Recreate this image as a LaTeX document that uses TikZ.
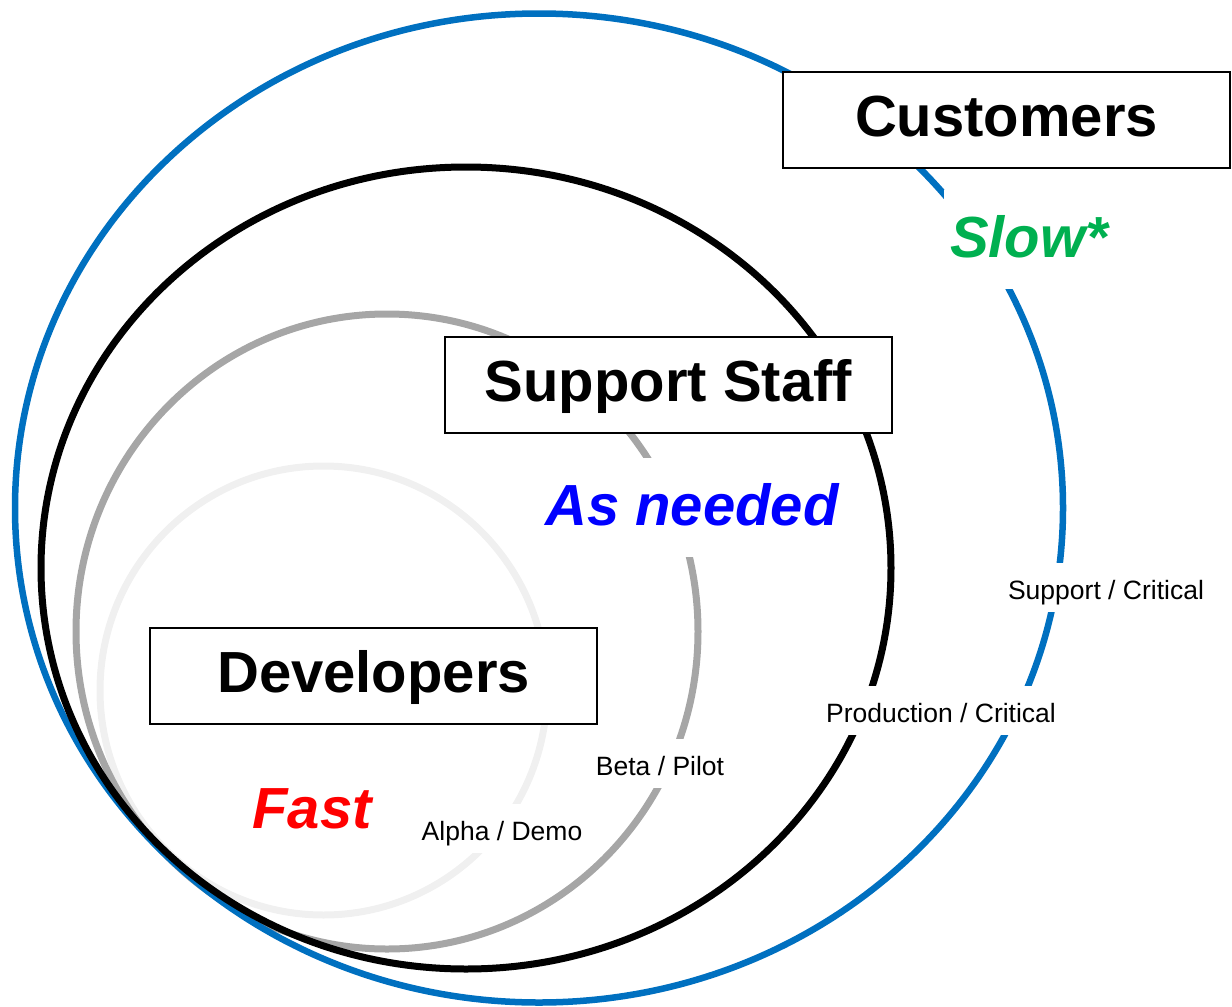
\documentclass[tikz,border=0pt]{standalone}
\usepackage{fontspec}
\setmainfont{Liberation Sans}
\definecolor{ringblue}{HTML}{0070C0}
\definecolor{ringgray}{HTML}{A6A6A6}
\definecolor{ringlight}{HTML}{F0F0F0}
\definecolor{slowgreen}{HTML}{00B050}
\definecolor{needblue}{HTML}{0000FF}
\definecolor{fastred}{HTML}{FF0000}
\begin{document}
\begin{tikzpicture}[x=1pt,y=-1pt,
  ring/.style={line width=7pt},
  titlebox/.style={draw, line width=2pt, fill=white, minimum width=447pt, minimum height=96pt,
    inner sep=0pt, font=\bfseries\fontsize{58}{60}\selectfont, text height=41.5pt, text depth=8pt},
  speed/.style={fill=white, anchor=base, font=\bfseries\itshape\fontsize{58}{60}\selectfont,
    text height=47pt, text depth=12pt, inner ysep=20pt, inner xsep=6pt},
  stage/.style={fill=white, anchor=base, font=\fontsize{26.5}{30}\selectfont,
    text height=28pt, text depth=5pt, inner ysep=8pt, inner xsep=3pt}]
\useasboundingbox (0,0) rectangle (1232,1007);
% rings
\draw[ring, ringlight] (323.5,690.5) ellipse [x radius=223.5pt, y radius=224.5pt];
\draw[ring, ringgray] (387,631.5) ellipse [x radius=311pt, y radius=317.5pt];
\draw[ring, ringblue, line width=6.5pt] (539,508) ellipse [x radius=524pt, y radius=494.5pt];
\draw[ring, black] (466,568) ellipse [x radius=425pt, y radius=401pt];
% title boxes
\node[titlebox] (cust) at (1006.5,119.5) {Customers};
\node[titlebox] (supp) at (668.5,385) {Support Staff};
\node[titlebox] (dev) at (373.5,676) {Developers};
% speed labels
\node[speed, text=slowgreen] (slow) at (1029,257) {Slow*};
\node[speed, text=needblue] (need) at (692,525) {As needed};
\node[speed, text=fastred] (fast) at (312,828) {Fast};
% stage labels
\node[stage] (sc) at (1106,599) {Support / Critical};
\node[stage] (pc) at (941,722) {Production / Critical};
\node[stage] (bp) at (660,775) {Beta / Pilot};
\node[stage] (ad) at (502,840) {Alpha / Demo};
\end{tikzpicture}
\end{document}
